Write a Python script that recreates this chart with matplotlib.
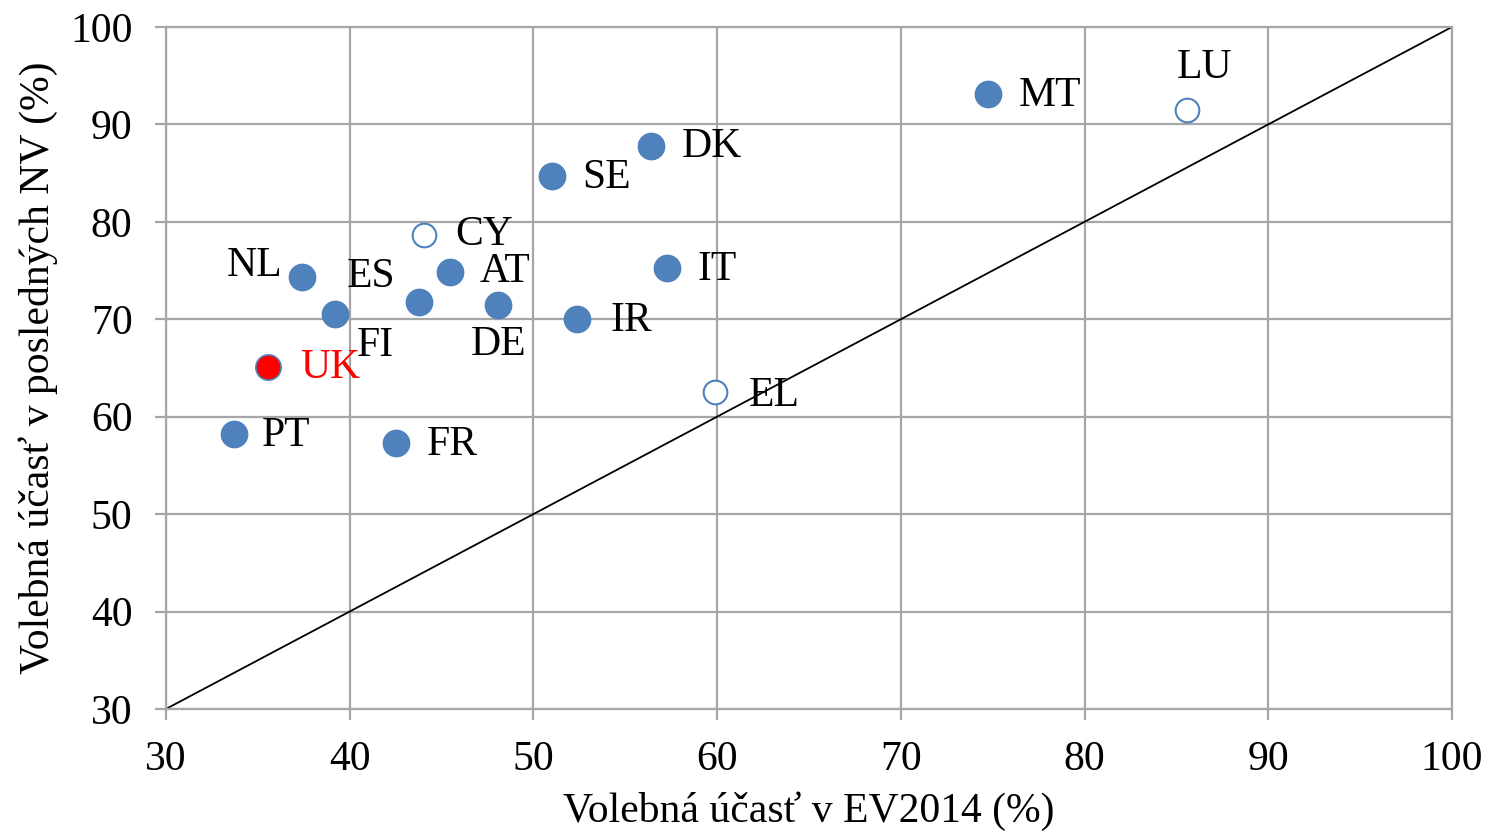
import matplotlib.pyplot as plt

plt.rcParams['font.family'] = ['Liberation Serif', 'DejaVu Serif']

# turnout data: EP 2014 (x) vs last national election (y)
countries = ['PT', 'UK', 'NL', 'FI', 'ES', 'AT', 'DE', 'CY', 'SE', 'DK',
             'IT', 'IR', 'FR', 'EL', 'MT', 'LU']
ev2014 = [33.7, 35.55, 37.4, 39.2, 43.8, 45.45, 48.1, 44.05, 51.0, 56.4,
          57.3, 52.4, 42.5, 59.9, 74.75, 85.6]
nv_last = [58.2, 65.1, 74.3, 70.5, 71.8, 74.85, 71.5, 78.6, 84.7, 87.8,
           75.3, 70.0, 57.3, 62.5, 93.1, 91.5]
hollow = ['CY', 'EL', 'LU']

# label offsets in pixels (y up)
offsets = {
    'PT': (28, -2), 'UK': (32, -1), 'NL': (-20, 12), 'FI': (22, -31),
    'ES': (-24, 25), 'AT': (30, 0), 'DE': (0, -40), 'CY': (31, 1),
    'SE': (31, -2), 'DK': (31, -1), 'IT': (30, -2), 'IR': (33, -1),
    'FR': (31, -2), 'EL': (34, -3), 'MT': (31, -2), 'LU': (17, 42),
}
ha_map = {'NL': 'right', 'ES': 'right', 'DE': 'center', 'LU': 'center'}

blue = '#4F81BD'
grid_c = '#A6A6A6'

fig = plt.figure(figsize=(14.91, 8.33), dpi=100)
ax = fig.add_axes([0.1113, 0.1489, 0.8625, 0.8187])

ax.plot([30, 100], [30, 100], color='black', lw=1.3, zorder=2)

for c, x, y in zip(countries, ev2014, nv_last):
    if c in hollow:
        ax.scatter(x, y, s=290, facecolor='white', edgecolor=blue, lw=1.5, zorder=3)
    elif c == 'UK':
        ax.scatter(x, y, s=330, facecolor='#FF0000', edgecolor=blue, lw=1.2, zorder=3)
    else:
        ax.scatter(x, y, s=360, facecolor=blue, edgecolor=blue, zorder=3)
    ax.annotate(c, (x, y), xytext=offsets[c], textcoords='offset pixels',
                ha=ha_map.get(c, 'left'), va='center', fontsize=30,
                color='#FF0000' if c == 'UK' else 'black', zorder=4)

ax.set_xlim(30, 100)
ax.set_ylim(30, 100)
ax.set_xticks(range(30, 101, 10))
ax.set_yticks(range(30, 101, 10))
ax.grid(True, color=grid_c, lw=1.6, zorder=0)
for s in ax.spines.values():
    s.set_color(grid_c)
    s.set_linewidth(1.6)
ax.tick_params(direction='out', length=8, width=1.6, color=grid_c, labelsize=30)
ax.tick_params(axis='x', pad=15)
ax.tick_params(axis='y', pad=16)

ax.set_xlabel('Volebná účasť v EV2014 (%)', fontsize=30, labelpad=9)
ax.set_ylabel('Volebná účasť v posledných NV (%)', fontsize=30, labelpad=9)

fig.savefig('out.png', dpi=100)
